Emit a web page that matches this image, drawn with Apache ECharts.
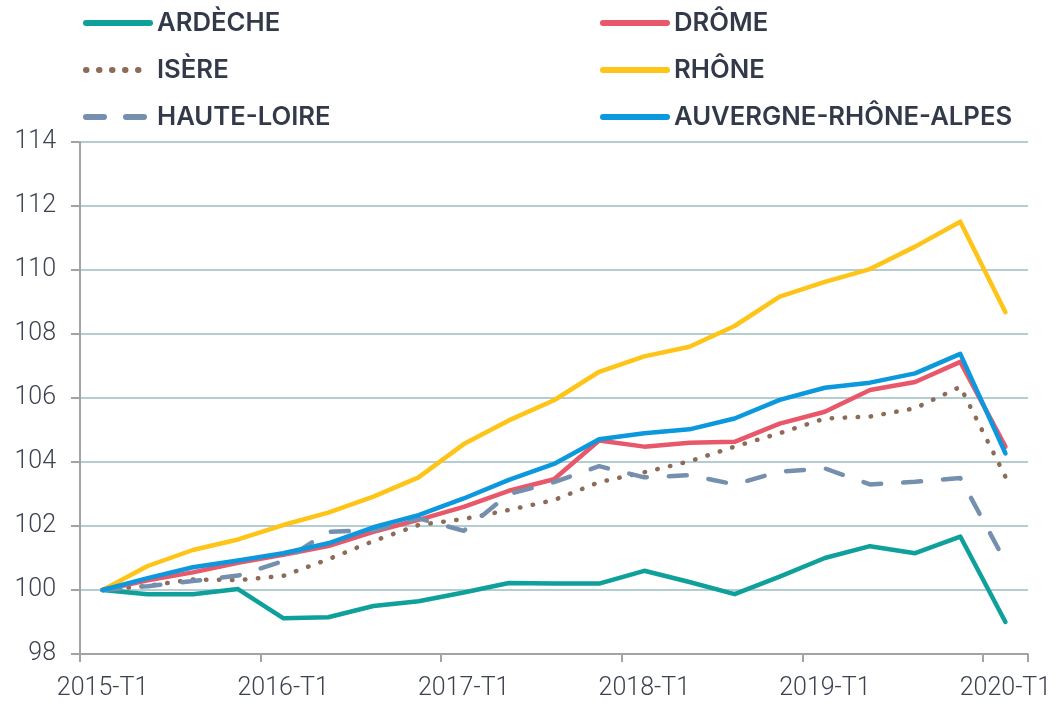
<!DOCTYPE html>
<html>
<head>
<meta charset="utf-8">
<script src="https://cdn.jsdelivr.net/npm/echarts@6/dist/echarts.min.js"></script>
<style>
html,body{margin:0;padding:0;background:#fff;}
#chart{width:1057px;height:705px;}
</style>
</head>
<body>
<div id="chart"></div>
<script>
const categories = [
  '2015-T1','2015-T2','2015-T3','2015-T4',
  '2016-T1','2016-T2','2016-T3','2016-T4',
  '2017-T1','2017-T2','2017-T3','2017-T4',
  '2018-T1','2018-T2','2018-T3','2018-T4',
  '2019-T1','2019-T2','2019-T3','2019-T4',
  '2020-T1'
];
const ardeche    = [100, 99.87, 99.87, 100.03, 99.12, 99.15, 99.5, 99.65, 99.92, 100.22, 100.2, 100.2, 100.6, 100.25, 99.87, 100.42, 101.0, 101.37, 101.15, 101.67, 99.0];
const drome      = [100, 100.3, 100.55, 100.85, 101.1, 101.37, 101.82, 102.19, 102.6, 103.1, 103.46, 104.67, 104.48, 104.6, 104.63, 105.2, 105.57, 106.25, 106.5, 107.13, 104.48];
const isere      = [100, 100.13, 100.33, 100.31, 100.44, 100.96, 101.53, 102.03, 102.22, 102.5, 102.81, 103.37, 103.68, 104.02, 104.48, 104.9, 105.36, 105.42, 105.68, 106.35, 103.54];
const rhone      = [100, 100.75, 101.25, 101.58, 102.03, 102.42, 102.92, 103.52, 104.56, 105.3, 105.93, 106.82, 107.3, 107.6, 108.25, 109.17, 109.63, 110.03, 110.73, 111.51, 108.68];
const hauteLoire = [100, 100.12, 100.28, 100.45, 100.9, 101.82, 101.87, 102.24, 101.85, 103.0, 103.37, 103.87, 103.52, 103.59, 103.3, 103.7, 103.8, 103.3, 103.38, 103.5, 100.88];
const aura       = [100, 100.37, 100.71, 100.92, 101.15, 101.46, 101.96, 102.34, 102.86, 103.44, 103.94, 104.71, 104.9, 105.02, 105.36, 105.94, 106.32, 106.48, 106.77, 107.38, 104.27];

const yMin = 98, yMax = 114, yStep = 2;

const chart = echarts.init(document.getElementById('chart'), null, {renderer: 'canvas'});

function mkSeries(name, data, color, type, z) {
  return {
    name: name, type: 'line', data: data, symbol: 'none', smooth: false, z: z,
    lineStyle: {color: color, width: 4.5, type: type, cap: 'round', join: 'round'},
    itemStyle: {color: color},
    emphasis: {disabled: true}
  };
}

const legendText = {fontFamily: 'Inter', fontWeight: 600, fontSize: 25.7, color: '#323a4a', lineHeight: 30, padding: [0,0,0,2]};
const legendCommon = {
  orient: 'vertical', top: 8, padding: 0,
  itemWidth: 64, itemHeight: 6, itemGap: 17,
  textStyle: legendText,
  itemStyle: {opacity: 0, borderWidth: 0},
  lineStyle: {width: 6, cap: 'round'}
};

const option = {
  animation: false,
  backgroundColor: '#ffffff',
  grid: {left: 80, right: 29, top: 142, bottom: 51, containLabel: false},
  legend: [
    Object.assign({}, legendCommon, {left: 83, data: ['ARDÈCHE', 'ISÈRE', 'HAUTE-LOIRE']}),
    Object.assign({}, legendCommon, {left: 600, data: ['DRÔME', 'RHÔNE', 'AUVERGNE-RHÔNE-ALPES']})
  ],
  xAxis: {
    type: 'category', data: categories, boundaryGap: true,
    axisLine: {show: true, lineStyle: {color: '#a3a3a3', width: 2}},
    axisTick: {show: true, interval: 3, length: 8, lineStyle: {color: '#a3a3a3', width: 2}},
    axisLabel: {interval: 3, margin: 22, fontFamily: 'Roboto', fontWeight: 300, fontSize: 25, color: '#3d4250'},
    splitLine: {show: false}
  },
  yAxis: {
    type: 'value', min: yMin, max: yMax, interval: yStep,
    axisLine: {show: true, lineStyle: {color: '#a3a3a3', width: 2}},
    axisTick: {show: true, length: 9, lineStyle: {color: '#a3a3a3', width: 2}},
    axisLabel: {margin: 24, fontFamily: 'Roboto', fontWeight: 300, fontSize: 25, color: '#3d4250'},
    splitLine: {show: true, lineStyle: {color: '#b3cdd0', width: 2}}
  },
  series: [
    mkSeries('ARDÈCHE', ardeche, '#10a09c', 'solid', 2),
    mkSeries('ISÈRE', isere, '#8c6b57', [0.5, 12.5], 3),
    mkSeries('RHÔNE', rhone, '#fec418', 'solid', 4),
    mkSeries('DRÔME', drome, '#e9576a', 'solid', 5),
    mkSeries('HAUTE-LOIRE', hauteLoire, '#7590ae', [18, 22], 6),
    mkSeries('AUVERGNE-RHÔNE-ALPES', aura, '#0b98dd', 'solid', 7)
  ]
};
chart.setOption(option);
</script>
</body>
</html>
